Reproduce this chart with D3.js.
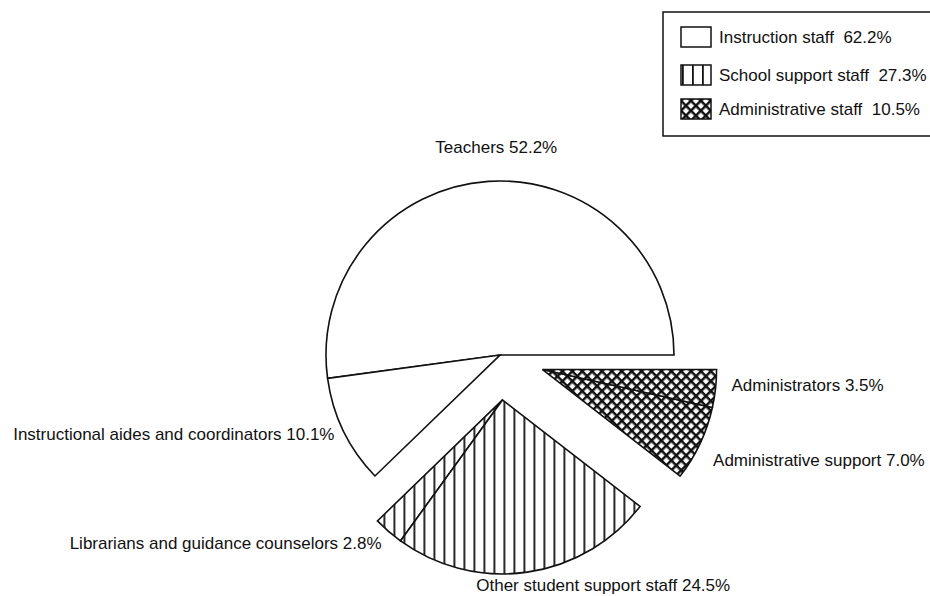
<!DOCTYPE html>
<html>
<head>
<meta charset="utf-8">
<script src="https://cdn.jsdelivr.net/npm/d3@7"></script>
<style>
  body { margin: 0; background: #fff; }
  svg text { font-family: "Liberation Sans", Arial, Helvetica, sans-serif; fill: #111; }
</style>
</head>
<body>
<div id="chart"></div>
<script>
// Data
const categories = [
  'Teachers',
  'Instructional aides and coordinators',
  'Librarians and guidance counselors',
  'Other student support staff',
  'Administrative support',
  'Administrators',
];
const shares = [52.2, 10.1, 2.8, 24.5, 7.0, 3.5];
const groupOfSlice = [0, 0, 1, 1, 2, 2];
const groupNames = ['Instruction staff', 'School support staff', 'Administrative staff'];
const groupShares = [62.2, 27.3, 10.5];

// Layout
const W = 930;
const H = 596;
const cx = 500;
const cy = 355;
const radius = 174;
const explode = [0, 45, 45];
const fills = ['#fff', 'url(#vhatch)', 'url(#xhatch)'];
// label nudges from the slice's outer mid point: [dx, dy, anchor]
const labelNudge = [
  [8, -28, 'middle'],
  [-9, 9, 'end'],
  [-7, 18, 'end'],
  [-51, 19, 'start'],
  [13, 22, 'start'],
  [16, 2, 'start'],
];

const svg = d3.select('#chart')
  .append('svg')
  .attr('width', W)
  .attr('height', H);

const defs = svg.append('defs');

// vertical hatch
const vh = defs.append('pattern')
  .attr('id', 'vhatch')
  .attr('patternUnits', 'userSpaceOnUse')
  .attr('x', 1)
  .attr('width', 10)
  .attr('height', 10);
vh.append('rect').attr('width', 10).attr('height', 10).attr('fill', '#fff');
vh.append('line')
  .attr('x1', 0).attr('y1', 0).attr('x2', 0).attr('y2', 10)
  .attr('stroke', '#111').attr('stroke-width', 3.6);

// diagonal cross hatch
const xh = defs.append('pattern')
  .attr('id', 'xhatch')
  .attr('patternUnits', 'userSpaceOnUse')
  .attr('width', 7)
  .attr('height', 7)
  .attr('patternTransform', 'rotate(45)');
xh.append('rect').attr('width', 7).attr('height', 7).attr('fill', '#fff');
xh.append('line')
  .attr('x1', 0).attr('y1', 0).attr('x2', 7).attr('y2', 0)
  .attr('stroke', '#111').attr('stroke-width', 5);
xh.append('line')
  .attr('x1', 0).attr('y1', 0).attr('x2', 0).attr('y2', 7)
  .attr('stroke', '#111').attr('stroke-width', 5);

const slices = categories.map((c, i) => ({ name: c, value: shares[i], group: groupOfSlice[i] }));

// start at 3 o'clock and go counterclockwise
const pie = d3.pie()
  .sort(null)
  .value(d => d.value)
  .startAngle(Math.PI / 2)
  .endAngle(Math.PI / 2 - 2 * Math.PI);

const arcs = pie(slices);

const arc = d3.arc()
  .innerRadius(0)
  .outerRadius(radius);

// mid angle of each group, used for exploding
const groupMid = groupNames.map((_, g) => {
  const members = arcs.filter(a => a.data.group === g);
  return (members[0].startAngle + members[members.length - 1].endAngle) / 2;
});
const groupOffset = groupMid.map((a, g) => [
  Math.sin(a) * explode[g],
  -Math.cos(a) * explode[g],
]);

const pieG = svg.append('g')
  .attr('transform', `translate(${cx}, ${cy})`);

pieG.selectAll('.slice')
  .data(arcs)
  .enter()
  .append('path')
  .attr('class', 'slice')
  .attr('transform', d => `translate(${groupOffset[d.data.group][0]}, ${groupOffset[d.data.group][1]})`)
  .attr('d', arc)
  .attr('fill', d => fills[d.data.group])
  .attr('stroke', '#111')
  .attr('stroke-width', 1.6)
  .attr('stroke-linejoin', 'miter');

// Slice labels
pieG.selectAll('.slice-label')
  .data(arcs)
  .enter()
  .append('text')
  .attr('class', 'slice-label')
  .attr('x', (d, i) => {
    const mid = (d.startAngle + d.endAngle) / 2;
    return groupOffset[d.data.group][0] + Math.sin(mid) * radius + labelNudge[i][0];
  })
  .attr('y', (d, i) => {
    const mid = (d.startAngle + d.endAngle) / 2;
    return groupOffset[d.data.group][1] - Math.cos(mid) * radius + labelNudge[i][1];
  })
  .attr('text-anchor', (_, i) => labelNudge[i][2])
  .style('font-size', '17px')
  .text(d => `${d.data.name} ${d.data.value.toFixed(1)}%`);

// Legend
const legend = svg.append('g')
  .attr('transform', 'translate(663, 12)');

legend.append('rect')
  .attr('x', 0)
  .attr('y', 0)
  .attr('width', 290)
  .attr('height', 124)
  .attr('fill', '#fff')
  .attr('stroke', '#111')
  .attr('stroke-width', 1.5);

const rowY = [15, 53, 87];
const rows = legend.selectAll('.legend-row')
  .data(groupNames)
  .enter()
  .append('g')
  .attr('class', 'legend-row')
  .attr('transform', (_, i) => `translate(18, ${rowY[i]})`);

rows.append('rect')
  .attr('width', 30)
  .attr('height', 20)
  .attr('fill', (_, i) => fills[i])
  .attr('stroke', '#111')
  .attr('stroke-width', 1.5);

rows.append('text')
  .attr('x', 38)
  .attr('y', 16)
  .style('font-size', '17px')
  .style('white-space', 'pre')
  .attr('xml:space', 'preserve')
  .text((d, i) => `${d}  ${groupShares[i].toFixed(1)}%`);
</script>
</body>
</html>
